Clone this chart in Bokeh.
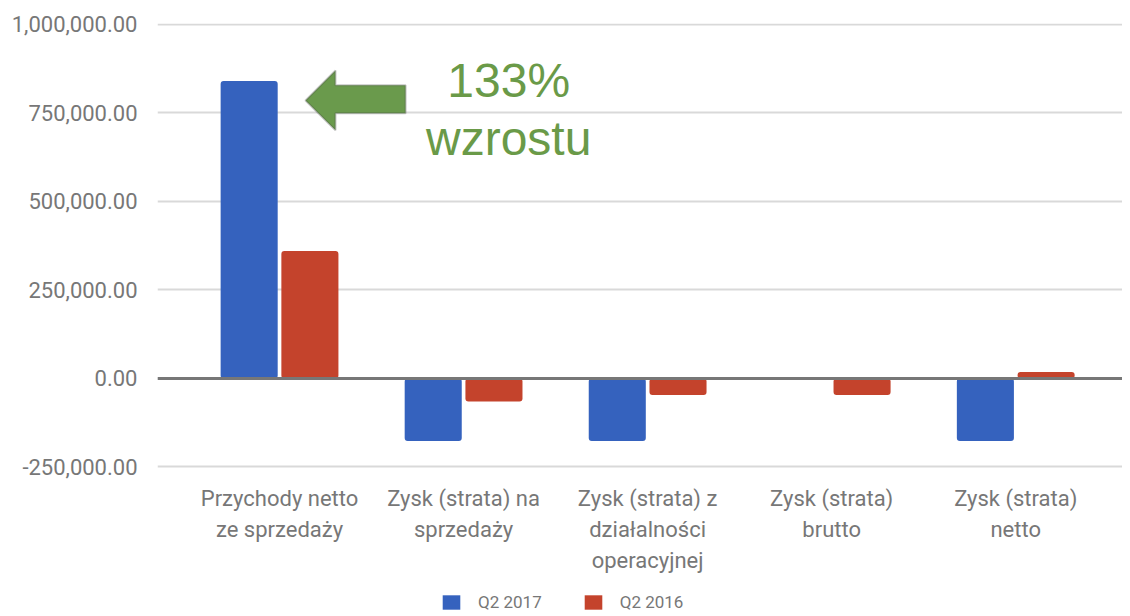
from bokeh.plotting import figure
from bokeh.models import (ColumnDataSource, FixedTicker, Legend, LegendItem,
                          Span, PolyAnnotation, NumeralTickFormatter)
from bokeh.core.properties import value
from bokeh.embed import file_html
from bokeh.resources import INLINE

categories = ["Przychody netto\nze sprzedaży", "Zysk (strata) na\nsprzedaży",
              "Zysk (strata) z\ndziałalności\noperacyjnej", "Zysk (strata)\nbrutto",
              "Zysk (strata)\nnetto"]
q2_2017 = [840000, -177000, -177000, 0, -177000]
q2_2016 = [360000, -65000, -47000, -47000, 18000]
y_ticks = [-250000, 0, 250000, 500000, 750000, 1000000]
series_names = ["Q2 2017", "Q2 2016"]
colors = ["#3562be", "#c4432c"]

idx = list(range(len(categories)))
src = ColumnDataSource(dict(
    x1=[i - 0.165 for i in idx], x2=[i + 0.165 for i in idx],
    a=q2_2017, b=q2_2016))
lab_src = ColumnDataSource(dict(x=idx, y=[min(y_ticks)] * len(idx), t=categories))

p = figure(frame_width=965, frame_height=592, output_backend="svg", toolbar_location=None,
           x_range=(-0.663, 4.58), y_range=(-670000, 1002800),
           min_border_left=157, min_border_right=0, min_border_top=23,
           min_border_bottom=0)
p.outline_line_color = None

r1 = p.vbar(x="x1", top="a", bottom=0, width=0.31, source=src,
            fill_color=colors[0], line_color=None, border_radius=3)
r2 = p.vbar(x="x2", top="b", bottom=0, width=0.31, source=src,
            fill_color=colors[1], line_color=None, border_radius=3)

p.add_layout(Span(location=0, dimension="width", line_color="#777777", line_width=3))

# category labels under the lowest gridline
p.xaxis.visible = False
p.xgrid.grid_line_color = None
p.text(x="x", y="y", text="t", source=lab_src, text_font=value("Roboto"),
       text_font_size="22px", text_color="#777777", text_align="center",
       text_baseline="top", y_offset=19, text_line_height=1.25)

p.yaxis.ticker = FixedTicker(ticks=y_ticks)
p.yaxis.formatter = NumeralTickFormatter(format="0,0.00")
p.yaxis.axis_line_color = None
p.yaxis.major_tick_line_color = None
p.yaxis.minor_tick_line_color = None
p.yaxis.major_label_text_font = "Roboto"
p.yaxis.major_label_text_font_size = "22px"
p.yaxis.major_label_text_color = "#777777"
p.yaxis.major_label_standoff = 14
p.ygrid.grid_line_color = "#d9d9d9"
p.ygrid.grid_line_width = 2

# arrow annotation
p.add_layout(PolyAnnotation(
    xs=[0.141, 0.304, 0.304, 0.685, 0.685, 0.304, 0.304],
    ys=[785000, 870000, 828000, 828000, 749000, 749000, 701000],
    fill_color="#6a9a4c", fill_alpha=1.0, line_color="#4a4a4a", line_width=2))

p.text(x=[1.245], y=[842000], text=["133%"], text_font=value("Liberation Sans"),
       text_font_size="48px", text_color="#6a9a48", text_align="center",
       text_baseline="middle")
p.text(x=[1.245], y=[678000], text=["wzrostu"], text_font=value("Liberation Sans"),
       text_font_size="48px", text_color="#6a9a48", text_align="center",
       text_baseline="middle")

legend = Legend(items=[LegendItem(label=series_names[0], renderers=[r1]),
                       LegendItem(label=series_names[1], renderers=[r2])],
                orientation="horizontal", location=(283, 3),
                label_text_font="Roboto", label_text_font_size="17px",
                label_text_color="#777777", glyph_width=22, glyph_height=18,
                spacing=40, border_line_color=None, padding=0, margin=0,
                label_standoff=16, background_fill_alpha=0)
p.add_layout(legend, "center")

open("out.html", "w").write(file_html(p, INLINE))
